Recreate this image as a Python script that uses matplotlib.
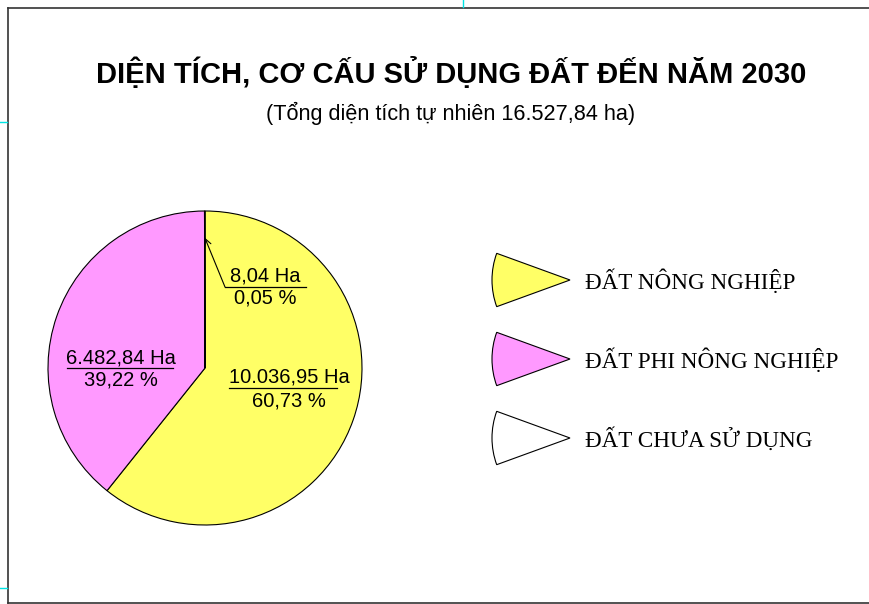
import numpy as np
import matplotlib
matplotlib.use('Agg')
import matplotlib.pyplot as plt
from matplotlib.patches import Wedge

# du lieu
categories = ['ĐẤT NÔNG NGHIỆP', 'ĐẤT PHI NÔNG NGHIỆP', 'ĐẤT CHƯA SỬ DỤNG']
areas = [10036.95, 6482.84, 8.04]
area_labels = ['10.036,95 Ha', '6.482,84 Ha', '8,04 Ha']
pct_labels = ['60,73 %', '39,22 %', '0,05 %']
colors = ['#FFFF66', '#FF99FF', '#FFFFFF']

title = 'DIỆN TÍCH, CƠ CẤU SỬ DỤNG ĐẤT ĐẾN NĂM 2030'
subtitle = '(Tổng diện tích tự nhiên 16.527,84 ha)'

W, H = 869, 604
fig = plt.figure(figsize=(W / 100, H / 100), dpi=100)
ax = fig.add_axes([0, 0, 1, 1])

cx, cy, r = 205, H - 368, 157
wedges, _ = ax.pie(areas, colors=colors, startangle=90, counterclock=False,
                   center=(cx, cy), radius=r,
                   wedgeprops=dict(edgecolor='black', linewidth=0.8))

ax.set_xlim(0, W)
ax.set_ylim(0, H)
ax.set_aspect('equal')
ax.axis('off')

sans = 'Liberation Sans'
serif = 'Liberation Serif'

# tieu de
ax.text(451, H - 73, title, ha='center', va='center', fontsize=21,
        fontweight='bold', family=sans)
ax.text(451, H - 113, subtitle, ha='center', va='center', fontsize=15.6,
        family=sans)

# nhan gia tri
def label(x, y_top, y_line, y_bot, x0, x1, i):
    ax.text(x, H - y_top, area_labels[i], ha='center', va='center',
            fontsize=14.5, family=sans)
    ax.plot([x0, x1], [H - y_line, H - y_line], color='black', lw=0.9)
    ax.text(x, H - y_bot, pct_labels[i], ha='center', va='center',
            fontsize=14.5, family=sans)

label(289, 377, 388, 401, 229, 337, 0)
label(121, 358, 368, 380, 67, 173, 1)
label(265, 276, 287, 298, 225, 306, 2)

# mui ten chi vao phan dat chua su dung
w = wedges[2]
ang = np.deg2rad((w.theta1 + w.theta2) / 2)
tip = (cx + 0.83 * r * np.cos(ang), cy + 0.83 * r * np.sin(ang))
ax.annotate('', xy=tip, xytext=(225, H - 287),
            arrowprops=dict(arrowstyle='->', color='black', lw=0.8,
                            shrinkA=0, shrinkB=0, mutation_scale=12))

# chu giai
for i, name in enumerate(categories):
    yc = H - (280 + 79 * i)
    ax.add_patch(Wedge((570, yc), 78, 160, 200, facecolor=colors[i],
                       edgecolor='black', linewidth=0.8))
    ax.text(585, yc - 2, name, ha='left', va='center', fontsize=16.7,
            family=serif)

# khung
fc = '#333333'
ax.plot([7.5, 7.5], [H - 7.5, H - 602.5], color=fc, lw=1.2, clip_on=False)
ax.plot([7.5, W], [H - 7.5, H - 7.5], color=fc, lw=1.2, clip_on=False)
ax.plot([7.5, W], [H - 602.5, H - 602.5], color=fc, lw=1.2, clip_on=False)
# dau cat
cy_c = '#00E5E5'
ax.plot([0, 7], [H - 122, H - 122], color=cy_c, lw=1.0)
ax.plot([0, 7], [H - 588, H - 588], color=cy_c, lw=1.0)
ax.plot([463, 463], [H, H - 7], color=cy_c, lw=1.0)

fig.savefig('out.png', dpi=100)
